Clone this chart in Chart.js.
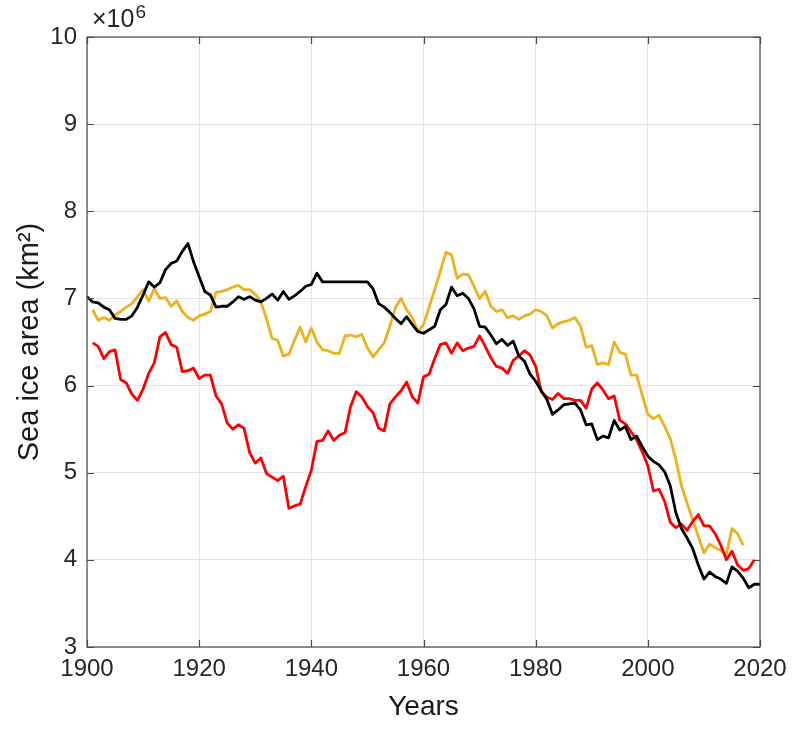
<!DOCTYPE html>
<html>
<head>
<meta charset="utf-8">
<script src="https://cdn.jsdelivr.net/npm/chart.js@4.4.1/dist/chart.umd.min.js"></script>
<style>
html,body{margin:0;padding:0;background:#fff;}
#wrap{width:800px;height:729px;position:relative;}
</style>
</head>
<body>
<div id="wrap"><canvas id="c" width="800" height="729"></canvas></div>
<script>
// ---- data ----
const blackStartYear = 1900;
const blackValues = [
  7.02, 6.96, 6.95, 6.90, 6.87, 6.77, 6.76, 6.76, 6.80, 6.90,
  7.04, 7.19, 7.13, 7.18, 7.33, 7.40, 7.43, 7.54, 7.63, 7.42,
  7.25, 7.08, 7.04, 6.90, 6.91, 6.91, 6.96, 7.02, 6.99, 7.02,
  6.98, 6.96, 7.00, 7.05, 6.98, 7.08, 6.99, 7.03, 7.08, 7.14,
  7.16, 7.29, 7.19, 7.19, 7.19, 7.19, 7.19, 7.19, 7.19, 7.19,
  7.19, 7.11, 6.94, 6.90, 6.84, 6.77, 6.71, 6.79, 6.70, 6.62,
  6.60, 6.64, 6.68, 6.87, 6.93, 7.13, 7.03, 7.06, 7.00, 6.88,
  6.68, 6.67, 6.58, 6.48, 6.53, 6.46, 6.51, 6.34, 6.28, 6.13,
  6.05, 5.94, 5.84, 5.67, 5.72, 5.78, 5.79, 5.80, 5.72, 5.55,
  5.56, 5.38, 5.42, 5.40, 5.60, 5.49, 5.53, 5.38, 5.42, 5.30,
  5.19, 5.13, 5.09, 5.01, 4.85, 4.54, 4.36, 4.25, 4.13, 3.94,
  3.78, 3.86, 3.81, 3.78, 3.73, 3.92, 3.87, 3.79, 3.68, 3.72,
  3.72
];
const redStartYear = 1901;
const redValues = [
  6.49, 6.45, 6.31, 6.39, 6.41, 6.07, 6.03, 5.90, 5.83, 5.96,
  6.14, 6.26, 6.56, 6.61, 6.47, 6.44, 6.16, 6.17, 6.20, 6.08,
  6.12, 6.12, 5.88, 5.79, 5.57, 5.50, 5.55, 5.51, 5.23, 5.11,
  5.17, 4.99, 4.95, 4.91, 4.96, 4.59, 4.62, 4.64, 4.84, 5.03,
  5.36, 5.37, 5.48, 5.37, 5.43, 5.46, 5.76, 5.93, 5.87, 5.76,
  5.69, 5.51, 5.48, 5.79, 5.87, 5.94, 6.04, 5.87, 5.80, 6.10,
  6.13, 6.31, 6.47, 6.49, 6.37, 6.49, 6.40, 6.43, 6.45, 6.57,
  6.45, 6.32, 6.22, 6.20, 6.14, 6.29, 6.34, 6.40, 6.35, 6.22,
  5.93, 5.87, 5.84, 5.91, 5.85, 5.85, 5.83, 5.83, 5.74, 5.96,
  6.03, 5.95, 5.85, 5.88, 5.60, 5.56, 5.47, 5.38, 5.24, 5.08,
  4.79, 4.81, 4.67, 4.43, 4.37, 4.41, 4.34, 4.44, 4.52, 4.39,
  4.39, 4.30, 4.17, 4.00, 4.10, 3.94, 3.88, 3.90, 4.00
];
const orangeStartYear = 1901;
const orangeValues = [
  6.87, 6.75, 6.78, 6.75, 6.81, 6.85, 6.90, 6.94, 7.02, 7.10,
  6.97, 7.11, 7.00, 7.01, 6.91, 6.97, 6.85, 6.78, 6.75, 6.80,
  6.82, 6.85, 7.07, 7.08, 7.10, 7.13, 7.15, 7.10, 7.10, 7.05,
  6.96, 6.77, 6.54, 6.52, 6.34, 6.36, 6.52, 6.67, 6.50, 6.66,
  6.50, 6.41, 6.40, 6.37, 6.37, 6.57, 6.58, 6.56, 6.59, 6.43,
  6.33, 6.41, 6.49, 6.68, 6.90, 7.00, 6.87, 6.78, 6.62, 6.70,
  6.90, 7.10, 7.31, 7.53, 7.50, 7.23, 7.28, 7.27, 7.14, 7.00,
  7.08, 6.91, 6.85, 6.87, 6.78, 6.80, 6.76, 6.80, 6.82, 6.87,
  6.85, 6.80, 6.66, 6.71, 6.73, 6.75, 6.78, 6.68, 6.44, 6.46,
  6.24, 6.26, 6.24, 6.50, 6.38, 6.36, 6.12, 6.12, 5.89, 5.67,
  5.62, 5.66, 5.53, 5.39, 5.15, 4.85, 4.65, 4.46, 4.27, 4.08,
  4.18, 4.14, 4.11, 4.06, 4.36, 4.30, 4.17
];
const xTickValues = [1900, 1920, 1940, 1960, 1980, 2000, 2020];
const yTickValues = [3, 4, 5, 6, 7, 8, 9, 10];
const xTitle = 'Years';
const yTitle = 'Sea ice area (km\u00B2)';
const multiplierBase = '\u00D710';
const multiplierExp = '6';

// ---- chart ----
const FONT = '"Liberation Sans", Arial, Helvetica, sans-serif';
const toPoints = (start, vals) => vals.map((v, i) => ({ x: start + i, y: v }));

const framePlugin = {
  id: 'frame',
  afterDraw(chart) {
    const { ctx, chartArea: a, scales } = chart;
    const x = scales.x, y = scales.y;
    ctx.save();
    ctx.strokeStyle = '#4a4a4a';
    ctx.lineWidth = 1.2;
    ctx.strokeRect(a.left, a.top, a.right - a.left, a.bottom - a.top);
    const L = 7;
    ctx.beginPath();
    xTickValues.forEach(v => {
      const px = Math.round(x.getPixelForValue(v)) + 0.5;
      ctx.moveTo(px, a.bottom); ctx.lineTo(px, a.bottom - L);
      ctx.moveTo(px, a.top); ctx.lineTo(px, a.top + L);
    });
    yTickValues.forEach(v => {
      const py = Math.round(y.getPixelForValue(v)) + 0.5;
      ctx.moveTo(a.left, py); ctx.lineTo(a.left + L, py);
      ctx.moveTo(a.right, py); ctx.lineTo(a.right - L, py);
    });
    ctx.stroke();
    ctx.fillStyle = '#262626';
    ctx.textAlign = 'left';
    ctx.textBaseline = 'alphabetic';
    ctx.font = '25px ' + FONT;
    const bx = a.left + 5;
    ctx.fillText(multiplierBase, bx, 27);
    const w = ctx.measureText(multiplierBase).width;
    ctx.font = '19px ' + FONT;
    ctx.fillText(multiplierExp, bx + w + 1, 18);
    ctx.restore();
  }
};

new Chart(document.getElementById('c'), {
  type: 'line',
  data: {
    datasets: [
      { data: toPoints(blackStartYear, blackValues), borderColor: '#000000' },
      { data: toPoints(redStartYear, redValues), borderColor: '#ff0000' },
      { data: toPoints(orangeStartYear, orangeValues), borderColor: '#edb120' }
    ]
  },
  options: {
    responsive: false,
    animation: false,
    devicePixelRatio: 1,
    layout: { padding: { left: 0, right: 40, top: 37, bottom: 0 } },
    plugins: { legend: { display: false }, tooltip: { enabled: false } },
    elements: {
      point: { radius: 0 },
      line: { borderWidth: 2.8, tension: 0, fill: false, borderJoinStyle: 'round' }
    },
    scales: {
      x: {
        type: 'linear', min: 1900, max: 2020,
        afterBuildTicks: s => { s.ticks = xTickValues.map(v => ({ value: v })); },
        afterFit: s => { s.height = 82; },
        ticks: { font: { family: FONT, size: 24 }, color: '#262626', padding: 8, maxRotation: 0, autoSkip: false, callback: v => String(v) },
        grid: { color: '#e4e4e4', lineWidth: 1, drawTicks: false },
        border: { display: false },
        title: { display: true, text: xTitle, font: { family: FONT, size: 28 }, color: '#1a1a1a', padding: { top: 0, bottom: 5 } }
      },
      y: {
        type: 'linear', min: 3, max: 10,
        afterBuildTicks: s => { s.ticks = yTickValues.map(v => ({ value: v })); },
        afterFit: s => { s.width = 87; },
        ticks: { font: { family: FONT, size: 24 }, color: '#262626', padding: 10, autoSkip: false, callback: v => String(v) },
        grid: { color: '#e4e4e4', lineWidth: 1, drawTicks: false },
        border: { display: false },
        title: { display: true, text: yTitle, font: { family: FONT, size: 29 }, color: '#1a1a1a', padding: { top: 13, bottom: 0 } }
      }
    }
  },
  plugins: [framePlugin]
});
</script>
</body>
</html>
